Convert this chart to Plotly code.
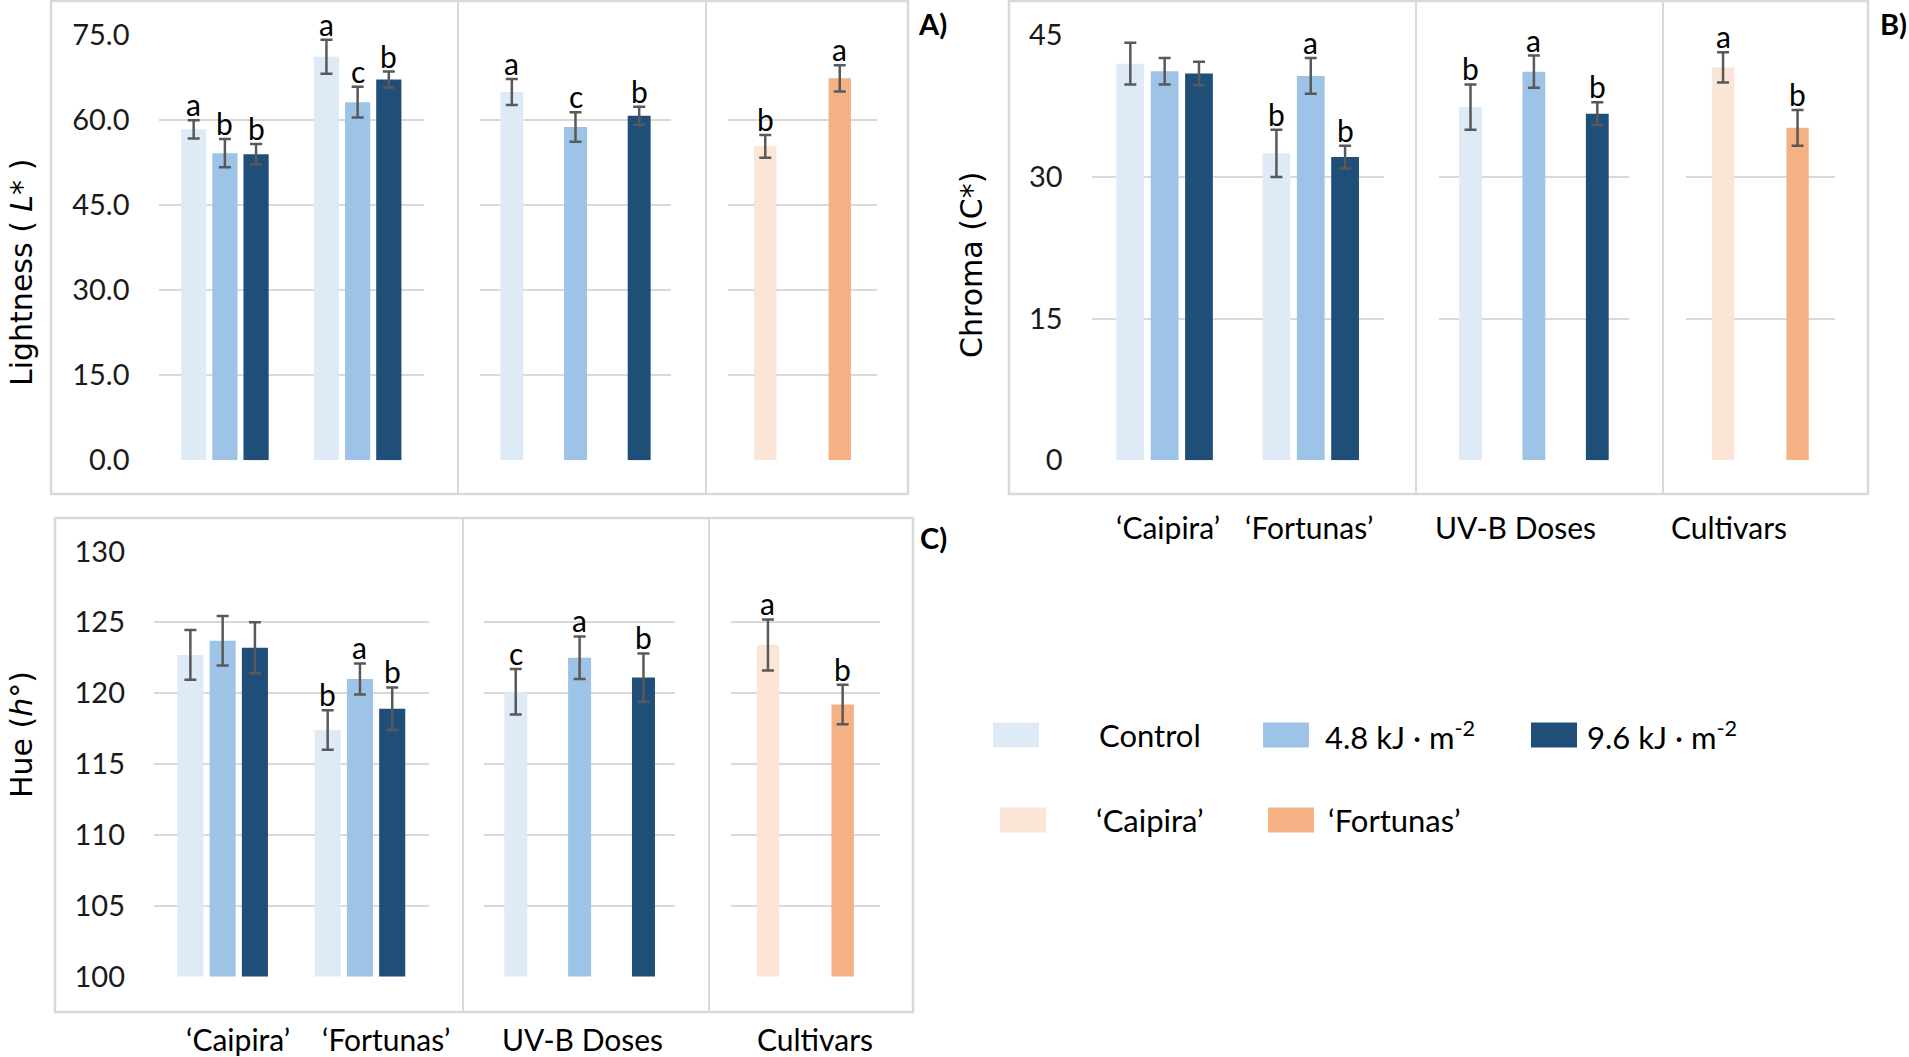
import plotly.graph_objects as go

W, H = 1909, 1057

cultivars = ["'Caipira'", "'Fortunas'"]
doses = ["Control", "4.8 kJ · m-2", "9.6 kJ · m-2"]

# Lightness (L*) - cultivar x dose, values per dose: [Caipira, Fortunas]
light_ctrl = [58.4, 71.2]
light_48 = [54.2, 63.2]
light_96 = [54.0, 67.2]
light_ctrl_err = [1.6, 3.0]
light_48_err = [2.5, 2.7]
light_96_err = [1.8, 1.4]
light_letters = [["a", "a"], ["b", "c"], ["b", "b"]]
light_doses = [65.0, 58.8, 60.8]
light_doses_err = [2.3, 2.6, 1.6]
light_doses_letters = ["a", "c", "b"]
light_cult = [55.4, 67.4]
light_cult_err = [2.0, 2.3]
light_cult_letters = ["b", "a"]

# Chroma (C*)
chroma_ctrl = [42.0, 32.5]
chroma_48 = [41.2, 40.7]
chroma_96 = [40.95, 32.1]
chroma_ctrl_err = [2.2, 2.5]
chroma_48_err = [1.4, 1.9]
chroma_96_err = [1.25, 1.2]
chroma_letters = [["", "b"], ["", "a"], ["", "b"]]
chroma_doses = [37.4, 41.15, 36.7]
chroma_doses_err = [2.4, 1.7, 1.2]
chroma_doses_letters = ["b", "a", "b"]
chroma_cult = [41.6, 35.2]
chroma_cult_err = [1.6, 1.9]
chroma_cult_letters = ["a", "b"]

# Hue (h°)
hue_ctrl = [122.7, 117.4]
hue_48 = [123.7, 121.0]
hue_96 = [123.2, 118.9]
hue_ctrl_err = [1.75, 1.4]
hue_48_err = [1.75, 1.1]
hue_96_err = [1.8, 1.5]
hue_letters = [["", "b"], ["", "a"], ["", "b"]]
hue_doses = [120.1, 122.5, 121.1]
hue_doses_err = [1.6, 1.5, 1.7]
hue_doses_letters = ["c", "a", "b"]
hue_cult = [123.4, 119.2]
hue_cult_err = [1.8, 1.4]
hue_cult_letters = ["a", "b"]

dose_colors = ["#DEEBF7", "#9DC3E6", "#1F4E79"]
cult_colors = ["#FBE5D6", "#F4B183"]
ERR = "#595959"
GRID = "#D9D9D9"
FONT = "Lato"
TFONT = "DejaVu Sans"


def fx(p):
    return p / W


def fy(p):
    return 1 - p / H


fig = go.Figure()
annotations = []
shapes = []
layout_axes = {}


def letter(k, x, y, t):
    if t:
        annotations.append(dict(x=x, y=y, xref="x%d" % k, yref="y%d" % k, text=t,
                                showarrow=False, yanchor="bottom", yshift=-4,
                                font=dict(family=FONT, size=30, color="black")))


def panel(k0, grouped, grouped_err, grouped_letters, dvals, derr, dlet, cvals, cerr, clet,
          yrange, dtick, tickfmt, xdoms, ydom):
    # sub 1: cultivar x dose
    width, slot = 0.19, 0.235
    for j in range(3):
        off = (j - 1) * slot - width / 2
        fig.add_bar(x=[0, 1], y=grouped[j], width=width, offset=off,
                    marker=dict(color=dose_colors[j], line=dict(width=0)),
                    error_y=dict(type="data", array=grouped_err[j], color=ERR, thickness=2.5, width=6),
                    xaxis="x%d" % k0, yaxis="y%d" % k0, showlegend=False)
        for i in range(2):
            letter(k0, i + (j - 1) * slot, grouped[j][i] + grouped_err[j][i], grouped_letters[j][i])
    # sub 2: doses
    fig.add_bar(x=[0, 1, 2], y=dvals, width=0.36, marker=dict(color=dose_colors, line=dict(width=0)),
                error_y=dict(type="data", array=derr, color=ERR, thickness=2.5, width=6),
                xaxis="x%d" % (k0 + 1), yaxis="y%d" % (k0 + 1), showlegend=False)
    for i in range(3):
        letter(k0 + 1, i, dvals[i] + derr[i], dlet[i])
    # sub 3: cultivars
    fig.add_bar(x=[0, 1], y=cvals, width=0.30, marker=dict(color=cult_colors, line=dict(width=0)),
                error_y=dict(type="data", array=cerr, color=ERR, thickness=2.5, width=6),
                xaxis="x%d" % (k0 + 2), yaxis="y%d" % (k0 + 2), showlegend=False)
    for i in range(2):
        letter(k0 + 2, i, cvals[i] + cerr[i], clet[i])

    ncat = [2, 3, 2]
    for s in range(3):
        k = k0 + s
        xn = "xaxis" if k == 1 else "xaxis%d" % k
        yn = "yaxis" if k == 1 else "yaxis%d" % k
        layout_axes[xn] = dict(domain=[fx(xdoms[s][0]), fx(xdoms[s][1])], range=[-0.5, ncat[s] - 0.5],
                               anchor="y%d" % k, showticklabels=False, showgrid=False,
                               zeroline=False, showline=False, ticks="", automargin=False)
        layout_axes[yn] = dict(domain=[fy(ydom[1]), fy(ydom[0])], range=yrange, dtick=dtick,
                               tick0=yrange[0], tickformat=tickfmt, anchor="x%d" % k,
                               showgrid=True, gridcolor=GRID, gridwidth=2, zeroline=False,
                               showline=False, ticks="", showticklabels=(s == 0),
                               ticklabelstandoff=28, automargin=False,
                               tickfont=dict(family=FONT, size=29, color="#1a1a1a"))


panel(1, [light_ctrl, light_48, light_96], [light_ctrl_err, light_48_err, light_96_err], light_letters,
      light_doses, light_doses_err, light_doses_letters, light_cult, light_cult_err, light_cult_letters,
      [0, 75], 15, ".1f", [(158.5, 424), (480, 671), (728, 877)], (35.3, 460.2))
panel(4, [chroma_ctrl, chroma_48, chroma_96], [chroma_ctrl_err, chroma_48_err, chroma_96_err], chroma_letters,
      chroma_doses, chroma_doses_err, chroma_doses_letters, chroma_cult, chroma_cult_err, chroma_cult_letters,
      [0, 45], 15, "d", [(1091.6, 1383.8), (1438.8, 1629), (1685.8, 1834.8)], (35.3, 460.2))
panel(7, [hue_ctrl, hue_48, hue_96], [hue_ctrl_err, hue_48_err, hue_96_err], hue_letters,
      hue_doses, hue_doses_err, hue_doses_letters, hue_cult, hue_cult_err, hue_cult_letters,
      [100, 130], 5, "d", [(154, 428.6), (483.8, 675.4), (730.6, 880)], (551.5, 976.4))

# frames and dividers
for (x0, y0, x1, y1, d1, d2) in [(51, 1, 908, 494, 458, 706), (1009, 1, 1868, 494, 1416, 1663),
                                 (55, 518, 913, 1012, 463, 709)]:
    shapes.append(dict(type="rect", xref="paper", yref="paper", x0=fx(x0), x1=fx(x1), y0=fy(y1), y1=fy(y0),
                       line=dict(color=GRID, width=2.5), layer="below"))
    for d in (d1, d2):
        shapes.append(dict(type="line", xref="paper", yref="paper", x0=fx(d), x1=fx(d), y0=fy(y1), y1=fy(y0),
                           line=dict(color=GRID, width=2)))


def txt(x, y, t, size=30, family=FONT, angle=0, xanchor="center", bold=False):
    annotations.append(dict(x=fx(x), y=fy(y), xref="paper", yref="paper", text=("<b>%s</b>" % t) if bold else t,
                            showarrow=False, xanchor=xanchor, yanchor="middle", textangle=angle,
                            font=dict(family=family, size=size, color="black")))


# axis titles
txt(21, 273, "Lightness ( <i>L</i>* )", size=30, family=TFONT, angle=-90)
txt(971, 264, "Chroma (C*)", size=30, family=TFONT, angle=-90)
txt(21, 735, "Hue (<i>h</i>°)", size=30, family=TFONT, angle=-90)

# x group labels
for (xs, y) in [((1168, 1309, 1515, 1729), 527), ((238, 386, 582, 815), 1039)]:
    for xx, t in zip(xs, ["‘Caipira’", "‘Fortunas’", "UV-B Doses", "Cultivars"]):
        txt(xx, y, t, size=30)

# panel letters
txt(932, 23, "A)", size=29, bold=True)
txt(1878, 23, "B)", size=29, bold=True, xanchor="left")
txt(933, 537, "C)", size=29, bold=True)

# legend
legend_items = [
    (993, 735, dose_colors[0], "Control", 1150, "center"),
    (1263, 735, dose_colors[1], "4.8 kJ · m<sup>-2</sup>", 1323, "left"),
    (1531, 735, dose_colors[2], "9.6 kJ · m<sup>-2</sup>", 1585, "left"),
    (1000, 820, cult_colors[0], "‘Caipira’", 1150, "center"),
    (1268, 820, cult_colors[1], "‘Fortunas’", 1326, "left"),
]
for (sx, sy, col, label, tx, anc) in legend_items:
    shapes.append(dict(type="rect", xref="paper", yref="paper", x0=fx(sx), x1=fx(sx + 46),
                       y0=fy(sy + 12.5), y1=fy(sy - 12.5), fillcolor=col, line=dict(width=0)))
    txt(tx, sy, label, size=31, xanchor=anc)

fig.update_layout(
    width=W, height=H, margin=dict(l=0, r=0, t=0, b=0, autoexpand=False),
    paper_bgcolor="white", plot_bgcolor="white",
    barmode="overlay", showlegend=False,
    annotations=annotations, shapes=shapes,
    **layout_axes,
)

fig.write_html("out.html", config={"displayModeBar": False},
               post_script="document.body.style.margin='0';")
